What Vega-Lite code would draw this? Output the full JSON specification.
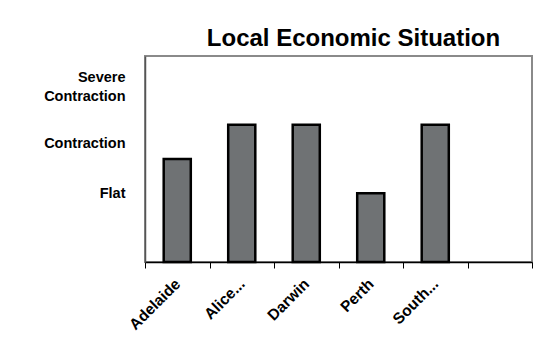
{
  "$schema": "https://vega.github.io/schema/vega-lite/v6.json",
  "width": 387,
  "height": 206,
  "autosize": {"type": "none"},
  "padding": {"left": 145, "top": 56, "right": 20, "bottom": 97},
  "background": "white",
  "title": {
    "text": "Local Economic Situation",
    "font": "Liberation Sans",
    "fontSize": 24,
    "fontWeight": "bold",
    "color": "black",
    "anchor": "middle",
    "dx": 15,
    "offset": 5
  },
  "data": {
    "values": [
      {"city": "Adelaide", "level": 3},
      {"city": "Alice...", "level": 4},
      {"city": "Darwin", "level": 4},
      {"city": "Perth", "level": 2},
      {"city": "South...", "level": 4}
    ]
  },
  "mark": {
    "type": "bar",
    "fill": "#6f7274",
    "stroke": "black",
    "strokeWidth": 2.5,
    "width": {"band": 0.42}
  },
  "encoding": {
    "x": {
      "field": "city",
      "type": "nominal",
      "sort": null,
      "scale": {"domain": ["Adelaide", "Alice...", "Darwin", "Perth", "South...", " "], "paddingInner": 0, "paddingOuter": 0},
      "axis": {
        "title": null,
        "labelAngle": -45,
        "labelAlign": "right",
        "labelBaseline": "middle",
        "labelFont": "Liberation Sans",
        "labelFontSize": 15.5,
        "labelFontWeight": "bold",
        "labelColor": "black",
        "labelPadding": 13,
        "tickBand": "extent",
        "tickColor": "black",
        "tickSize": 6,
        "tickOffset": 0,
        "domainColor": "black",
        "domainWidth": 1.5
      }
    },
    "y": {
      "field": "level",
      "type": "quantitative",
      "scale": {"domain": [0, 6], "nice": false},
      "axis": {
        "title": null,
        "values": [2, 3.45, 5.37],
        "ticks": false,
        "grid": false,
        "labelExpr": "datum.value == 2 ? 'Flat' : datum.value < 4 ? 'Contraction' : ['Severe', 'Contraction']",
        "labelFont": "Liberation Sans",
        "labelFontSize": 14.5,
        "labelFontWeight": "bold",
        "labelColor": "black",
        "labelPadding": 20,
        "labelLineHeight": 19,
        "domainColor": "#555555",
        "domainWidth": 1.5
      }
    }
  },
  "config": {
    "view": {"stroke": "#8a8a8a", "strokeWidth": 2}
  }
}
